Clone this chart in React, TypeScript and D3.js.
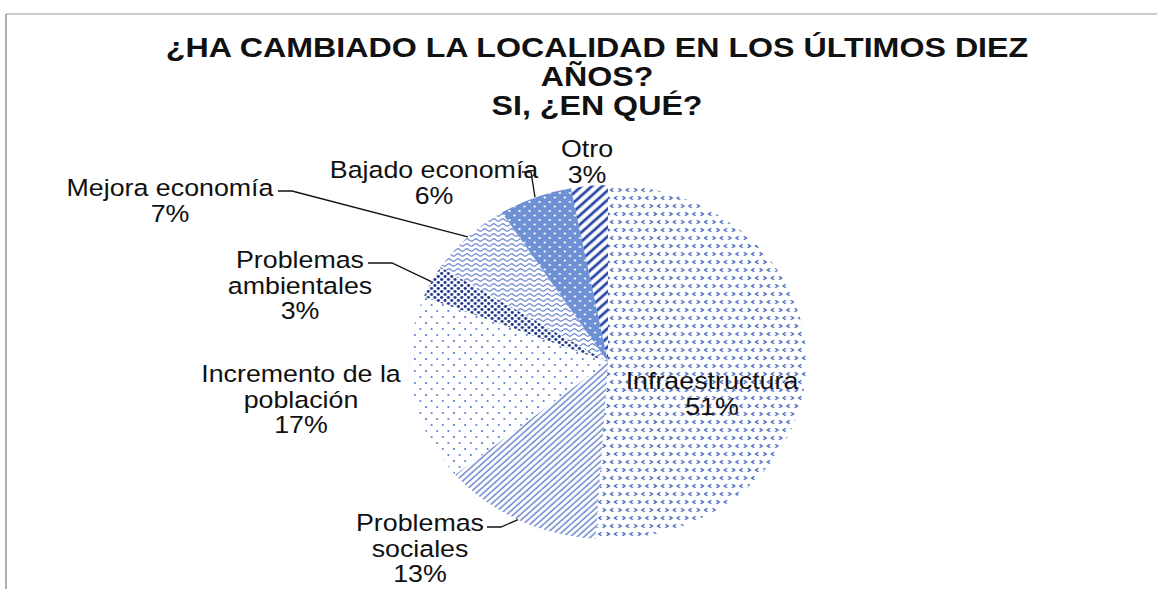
import React from "react";
import * as d3 from "d3";

const categories = [
  "Infraestructura",
  "Problemas sociales",
  "Incremento de la población",
  "Problemas ambientales",
  "Mejora economía",
  "Bajado economía",
  "Otro",
];
const values = [51, 13, 17, 3, 7, 6, 3];
const labelLines = [
  ["Infraestructura", "51%"],
  ["Problemas", "sociales", "13%"],
  ["Incremento de la", "población", "17%"],
  ["Problemas", "ambientales", "3%"],
  ["Mejora economía", "7%"],
  ["Bajado economía", "6%"],
  ["Otro", "3%"],
];
const titleLines = [
  "¿HA CAMBIADO LA LOCALIDAD EN LOS ÚLTIMOS DIEZ",
  "AÑOS?",
  "SI, ¿EN QUÉ?",
];

// layout (not data)
const W = 1157, H = 589;
const CX = 608, CY = 362, RY = 177, SX = 1.12;
const TEXT_SX = 1.15;
const labelPos: Record<string, { x: number; y: number; leader?: [number, number][] }> = {
  "Infraestructura": { x: 712, y: 389 },
  "Problemas sociales": { x: 420, y: 531, leader: [[487, 527], [501, 527]] },
  "Incremento de la población": { x: 301, y: 382 },
  "Problemas ambientales": { x: 300, y: 268, leader: [[368, 263], [392, 263]] },
  "Mejora economía": { x: 170, y: 196, leader: [[278, 191], [292, 191]] },
  "Bajado economía": { x: 434, y: 178, leader: [[522, 172], [531, 172]] },
  "Otro": { x: 587, y: 157 },
};
const fills = ["pInfra", "pSoc", "pInc", "pAmb", "pMej", "pBaj", "pOtro"];

export default function App() {
  const pie = d3.pie<number>().sort(null).startAngle(0).endAngle(2 * Math.PI);
  const arcs = pie(values);
  const arc = d3.arc<d3.PieArcDatum<number>>().innerRadius(0).outerRadius(RY);

  return (
    <svg width={W} height={H} style={{ position: "absolute", left: 0, top: 0, background: "#fff" }}
      fontFamily="'Liberation Sans', Arial, sans-serif">
      <defs>
        <pattern id="pInfra" width={14} height={16} patternUnits="userSpaceOnUse">
          <g fill="none" stroke="#4467c2" strokeWidth={1.3}>
            <path d="M4.7,2.2 L2.3,4 L4.7,5.8" />
            <path d="M9.3,2.2 L11.7,4 L9.3,5.8" />
            <path d="M-1.2,10.2 L1.2,12 L-1.2,13.8" />
            <path d="M12.8,10.2 L15.2,12 L12.8,13.8" />
            <path d="M8.2,10.2 L5.8,12 L8.2,13.8" />
          </g>
        </pattern>
        <pattern id="pSoc" width={4.3} height={10} patternUnits="userSpaceOnUse" patternTransform="rotate(45)">
          <line x1={1} y1={0} x2={1} y2={10} stroke="#5f7cc8" strokeWidth={1.3} />
        </pattern>
        <pattern id="pInc" width={10} height={12} patternUnits="userSpaceOnUse">
          <circle cx={2.5} cy={3} r={0.9} fill="#4f6fc4" />
          <circle cx={7.5} cy={9} r={0.9} fill="#4f6fc4" />
        </pattern>
        <pattern id="pAmb" width={6} height={6} patternUnits="userSpaceOnUse">
          <circle cx={1.5} cy={1.5} r={1.4} fill="#1d3589" />
          <circle cx={4.5} cy={4.5} r={1.4} fill="#1d3589" />
        </pattern>
        <pattern id="pMej" width={8} height={5} patternUnits="userSpaceOnUse">
          <path d="M0,3 Q2,0.5 4,3 T8,3" fill="none" stroke="#4566c0" strokeWidth={1} />
        </pattern>
        <pattern id="pBaj" width={9} height={9} patternUnits="userSpaceOnUse">
          <rect width={9} height={9} fill="#6e90d4" />
          <circle cx={2} cy={2} r={1.1} fill="#fff" />
          <circle cx={6.5} cy={6.5} r={1.1} fill="#fff" />
        </pattern>
        <pattern id="pOtro" width={6.5} height={10} patternUnits="userSpaceOnUse" patternTransform="rotate(45)">
          <line x1={2} y1={0} x2={2} y2={10} stroke="#2646a6" strokeWidth={2.6} />
        </pattern>
      </defs>

      {/* frame */}
      <line x1={6} y1={14} x2={W} y2={14} stroke="#9a9a9a" strokeWidth={1.2} />
      <line x1={6} y1={14} x2={6} y2={H} stroke="#8a8a8a" strokeWidth={1.4} />

      {/* title */}
      {titleLines.map((t, i) => (
        <g key={t} transform={`translate(597,${57 + i * 29}) scale(1.13,1)`}>
          <text textAnchor="middle" fontSize={28.5} fontWeight="bold" fill="#111">{t}</text>
        </g>
      ))}

      {/* pie */}
      <g transform={`translate(${CX},${CY}) scale(${SX},1)`}>
        {arcs.map((d, i) => (
          <path key={categories[i]} d={arc(d) || ""} fill={`url(#${fills[i]})`} />
        ))}
      </g>

      {/* leaders */}
      {arcs.map((d, i) => {
        const p = labelPos[categories[i]];
        if (!p.leader) return null;
        const a = (d.startAngle + d.endAngle) / 2;
        const end: [number, number] = [CX + RY * SX * Math.sin(a), CY - RY * Math.cos(a)];
        const pts = [...p.leader, end];
        return (
          <path key={"l" + i} d={d3.line()(pts) || ""} fill="none" stroke="#111" strokeWidth={1.3} />
        );
      })}

      {/* labels */}
      {categories.map((c, i) => {
        const p = labelPos[c];
        return labelLines[i].map((t, j) => (
          <g key={c + j} transform={`translate(${p.x},${p.y + j * 25.5}) scale(${TEXT_SX},1)`}>
            <text textAnchor="middle" fontSize={23.3} fill="#111">{t}</text>
          </g>
        ));
      })}
    </svg>
  );
}
